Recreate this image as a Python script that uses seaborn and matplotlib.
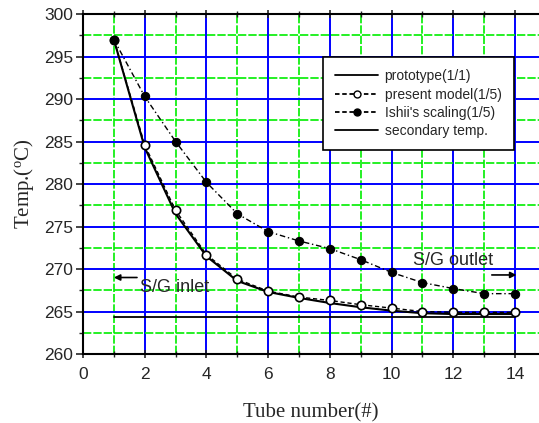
import matplotlib
matplotlib.use("Agg")
import matplotlib.pyplot as plt
from matplotlib.lines import Line2D
from matplotlib.ticker import MultipleLocator
import seaborn as sns
import pandas as pd

tube = [1, 2, 3, 4, 5, 6, 7, 8, 9, 10, 11, 12, 13, 14]
prototype = [297.0, 284.3, 276.5, 271.5, 268.6, 267.3, 266.6, 266.0, 265.5, 265.1, 264.8, 264.7, 264.7, 264.7]
present_model = [297.0, 284.6, 276.9, 271.7, 268.8, 267.4, 266.7, 266.3, 265.8, 265.4, 265.0, 264.9, 264.9, 264.9]
ishii = [297.0, 290.3, 285.0, 280.2, 276.5, 274.4, 273.3, 272.4, 271.1, 269.6, 268.4, 267.7, 267.1, 267.1]
secondary_x = [1, 14]
secondary = [264.3, 264.3]

sns.set_style("white")
plt.rcParams['font.family'] = ['Liberation Sans', 'DejaVu Sans']
plt.rcParams['mathtext.fontset'] = 'custom'
plt.rcParams['mathtext.rm'] = 'Liberation Serif'

df = pd.DataFrame({"tube": tube, "prototype": prototype,
                   "present": present_model, "ishii": ishii})

fig = plt.figure(figsize=(5.39, 4.23), dpi=100)
ax = fig.add_axes([83/539, 69/423, 1 - 83/539, 340/423])

ax.set_xlim(0, 14.78)
ax.set_ylim(260, 300)

# grid
ax.xaxis.set_major_locator(MultipleLocator(2))
ax.xaxis.set_minor_locator(MultipleLocator(1))
ax.yaxis.set_major_locator(MultipleLocator(5))
ax.yaxis.set_minor_locator(MultipleLocator(2.5))
ax.grid(which='major', color='#0000ff', lw=1.4, ls='-', zorder=0)
ax.grid(which='minor', color='#00ee00', lw=1.2, ls=(0, (5, 1.2)), zorder=0)
ax.set_axisbelow(True)

sns.lineplot(data=df, x="tube", y="prototype", ax=ax, color='black', lw=1.5,
             zorder=3, legend=False)
sns.lineplot(data=df, x="tube", y="present", ax=ax, color='black', lw=1.0,
             ls=(0, (3, 2)), marker='o', markersize=6, markerfacecolor='white',
             markeredgecolor='black', markeredgewidth=1.2, zorder=4, legend=False)
sns.lineplot(data=df, x="tube", y="ishii", ax=ax, color='black', lw=1.0,
             ls=(0, (4, 2, 1, 2)), marker='o', markersize=6, markerfacecolor='black',
             markeredgecolor='black', zorder=4, legend=False)
sns.lineplot(x=secondary_x, y=secondary, ax=ax, color='black', lw=1.3, zorder=3,
             legend=False)

for s in ['left', 'bottom', 'top']:
    ax.spines[s].set_color('black')
    ax.spines[s].set_linewidth(1.5)
ax.spines['right'].set_visible(False)

ax.tick_params(axis='y', which='major', direction='out', length=5, width=1.2,
               labelsize=12.5, left=True, pad=2)
ax.tick_params(axis='y', which='minor', direction='out', length=3, width=1.0, left=True)
ax.tick_params(axis='x', which='major', direction='inout', length=6, width=1.2,
               labelsize=12.5, bottom=True, top=True, pad=6)
ax.tick_params(axis='x', which='minor', direction='inout', length=5, width=1.0,
               bottom=True, top=True)

ax.set_xlabel("Tube number(#)", family='Liberation Serif', fontsize=15, labelpad=16)
ax.set_ylabel(r"Temp.($\mathregular{^o}$C)", family='Liberation Serif', fontsize=15,
              labelpad=6)

# annotations
ax.annotate("", xy=(1.0, 269.0), xytext=(1.75, 269.0),
            arrowprops=dict(arrowstyle='-|>', color='black', lw=1.2,
                            mutation_scale=9, shrinkA=0, shrinkB=0), zorder=5)
ax.text(1.85, 267.8, "S/G inlet", fontsize=13, va='center', ha='left', zorder=5)
ax.annotate("", xy=(14.05, 269.3), xytext=(13.25, 269.3),
            arrowprops=dict(arrowstyle='-|>', color='black', lw=1.2,
                            mutation_scale=9, shrinkA=0, shrinkB=0), zorder=5)
ax.text(10.68, 271.0, "S/G outlet", fontsize=13, va='center', ha='left', zorder=5)

handles = [
    Line2D([], [], color='black', lw=1.3),
    Line2D([], [], color='black', lw=1.3, ls=(0, (2.5, 1.5)), marker='o', markersize=5,
           markerfacecolor='white', markeredgecolor='black'),
    Line2D([], [], color='black', lw=1.3, ls=(0, (2.5, 1.5)), marker='o', markersize=5,
           markerfacecolor='black', markeredgecolor='black'),
    Line2D([], [], color='black', lw=1.3),
]
labels = ["prototype(1/1)", "present model(1/5)", "Ishii's scaling(1/5)", "secondary temp."]
leg = ax.legend(handles, labels, loc='upper left', bbox_to_anchor=(0.526, 0.874),
                fontsize=10, handlelength=3.1, labelspacing=0.3, handletextpad=0.45,
                borderpad=0.9, borderaxespad=0, frameon=True, fancybox=False)
leg.get_frame().set_edgecolor('black')
leg.get_frame().set_linewidth(1.2)
leg.get_frame().set_alpha(1)
leg.set_zorder(6)

fig.savefig("out.png", dpi=100)
